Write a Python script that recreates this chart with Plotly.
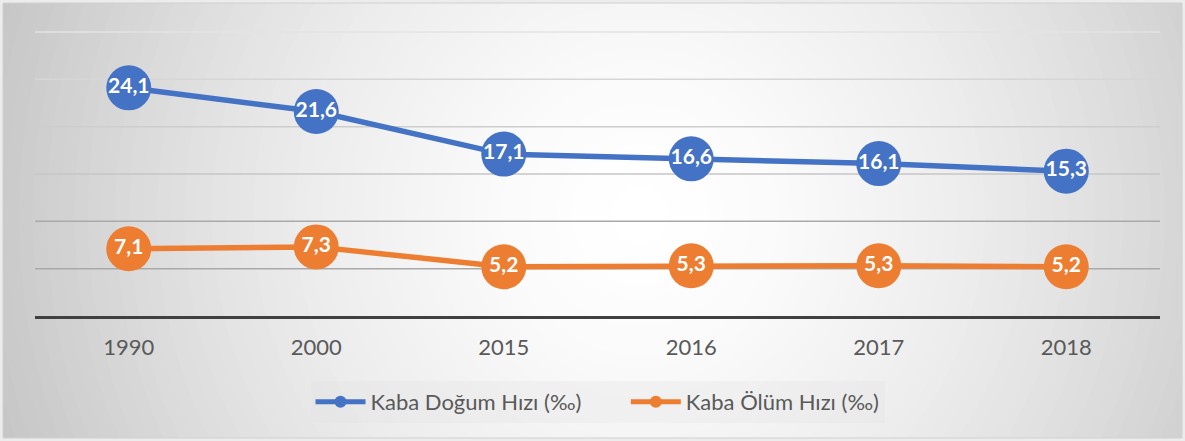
import plotly.graph_objects as go

years = ["1990", "2000", "2015", "2016", "2017", "2018"]
birth = [24.1, 21.6, 17.1, 16.6, 16.1, 15.3]
death = [7.1, 7.3, 5.2, 5.3, 5.3, 5.2]
birth_name = "Kaba Doğum Hızı (‰)"
death_name = "Kaba Ölüm Hızı (‰)"
grid_vals = [5, 10, 15, 20, 25, 30]
grid_cols = ["#a9a9a9", "#a9a9a9", "#c6c6c6", "#cdcdcd", "#d6d6d6", "#e3e3e3"]
blue = "#4472C4"
orange = "#ED7D31"

W, H = 1185, 441
L, R, T, B = 35, 25, 29, 125
PW, PH = W - L - R, H - T - B
YTOP = 30 * (H - B - T) / (H - B - 32)

def px(x):
    return (x - L) / PW

def py(y):
    return (H - B - y) / PH

def fmt(v):
    return f"{v:.1f}".replace(".", ",")

fig = go.Figure()
fig.add_trace(go.Scatter(x=years, y=birth, mode="lines+markers", name=birth_name + "\u00a0" * 7,
                         line=dict(color=blue, width=5.5), marker=dict(size=45, color=blue)))
fig.add_trace(go.Scatter(x=years, y=death, mode="lines+markers", name=death_name,
                         line=dict(color=orange, width=5.5), marker=dict(size=45, color=orange)))
for vals in (birth, death):
    fig.add_trace(go.Scatter(x=years, y=vals, mode="text", text=[fmt(v) for v in vals],
                             textposition="middle center", showlegend=False, hoverinfo="skip",
                             textfont=dict(family="Lato", size=21, color="white", weight="bold")))

shapes = []
shapes.append(dict(type="rect", xref="paper", yref="paper", x0=px(3), x1=px(W - 3), y0=py(H - 3), y1=py(3),
                   fillcolor="#c4c4c4", line=dict(width=0), layer="below"))
cx, cy = 640, 215
N = 50
for i in range(N):
    t = 1 - i / N
    c = int(round(255 - (255 - 196) * t ** 1.6))
    col = f"rgb({c},{c},{c})"
    rx, ry = 690 * t, 700 * t
    shapes.append(dict(type="circle", xref="paper", yref="paper",
                       x0=px(cx - rx), x1=px(cx + rx), y0=py(cy + ry), y1=py(cy - ry),
                       fillcolor=col, line=dict(width=0), layer="below"))
for (x0, x1, y0, y1) in [(0, W, 0, 3), (0, W, H - 3, H), (0, 3, 0, H), (W - 3, W, 0, H)]:
    shapes.append(dict(type="rect", xref="paper", yref="paper", x0=px(x0), x1=px(x1), y0=py(y1), y1=py(y0),
                       fillcolor="#ececec", line=dict(width=0), layer="below"))
shapes.append(dict(type="rect", xref="paper", yref="paper", x0=px(3), x1=px(W - 3), y0=py(H - 3), y1=py(3),
                   fillcolor="rgba(0,0,0,0)", line=dict(width=1, color="#d0d0d0"), layer="below"))
for v, c in zip(grid_vals, grid_cols):
    shapes.append(dict(type="line", xref="paper", yref="y", x0=0, x1=1, y0=v, y1=v,
                       line=dict(color=c, width=1.5), layer="below"))

fig.update_layout(
    width=W, height=H,
    margin=dict(l=L, r=R, t=T, b=B),
    paper_bgcolor="white",
    plot_bgcolor="rgba(0,0,0,0)",
    font=dict(family="Lato", size=22, color="#595959"),
    shapes=shapes,
    showlegend=True,
    legend=dict(orientation="h", x=0.5, xanchor="center", y=(H - B - 402) / PH, yanchor="middle",
                font=dict(size=22, color="#595959"), itemsizing="constant", itemwidth=50,
                bgcolor="rgba(225,225,225,0.3)"),
    xaxis=dict(type="category", range=[-0.5, 5.5], showgrid=False, showline=True,
               linecolor="#404040", linewidth=3, ticks="", ticklabelstandoff=10,
               tickfont=dict(size=22, color="#595959"), zeroline=False),
    yaxis=dict(range=[0, YTOP], showgrid=False,
               showticklabels=False, zeroline=False, showline=False),
)

fig.write_html("out.html", config={"displayModeBar": False},
               post_script="document.body.style.margin='0';document.body.style.overflow='hidden';")
